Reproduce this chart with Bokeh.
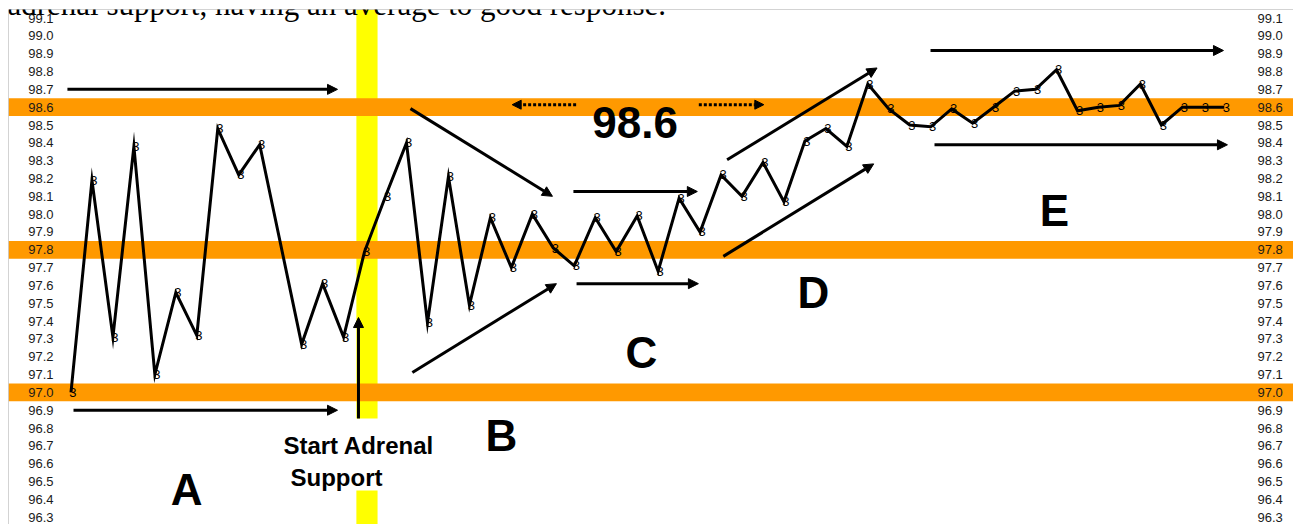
from bokeh.plotting import figure
from bokeh.models import (BoxAnnotation, Arrow, NormalHead, LinearAxis, FixedTicker,
                          PrintfTickFormatter, Span, Label)
from bokeh.core.properties import value
from bokeh.embed import file_html
from bokeh.resources import INLINE

# ---------------- data ----------------
caption = "adrenal support, having an average to good response."

days = [0, 1, 2, 3, 4, 5, 6, 7, 8, 9,
        11, 12, 13, 14, 15, 16, 17, 18, 19, 20,
        21, 22, 23, 24, 25, 26, 27, 28, 29, 30,
        31, 32, 33, 34, 35, 36, 37, 38, 39, 40,
        41, 42, 43, 44, 45, 46, 47, 48, 49, 50,
        51, 52, 53, 54, 55]
temps = [97.00, 98.19, 97.31, 98.38, 97.10, 97.56, 97.32, 98.48, 98.22, 98.39,
         97.27, 97.61, 97.31, 97.79, 98.10, 98.40, 97.39, 98.21, 97.49, 97.98,
         97.70, 98.00, 97.81, 97.71, 97.98, 97.79, 97.99, 97.68, 98.09, 97.90,
         98.22, 98.10, 98.29, 98.07, 98.41, 98.48, 98.38, 98.73, 98.59, 98.50,
         98.49, 98.59, 98.51, 98.60, 98.69, 98.70, 98.81, 98.58, 98.60, 98.61,
         98.73, 98.50, 98.60, 98.60, 98.60]
readings = ["3"] * len(days)

tick_labels = ["96.3", "96.4", "96.5", "96.6", "96.7", "96.8", "96.9", "97.0",
               "97.1", "97.2", "97.3", "97.4", "97.5", "97.6", "97.7", "97.8",
               "97.9", "98.0", "98.1", "98.2", "98.3", "98.4", "98.5", "98.6",
               "98.7", "98.8", "98.9", "99.0", "99.1"]
reference_temps = [97.0, 97.8, 98.6]
reference_label = "98.6"
start_label_lines = ["Start Adrenal", "Support"]
phase_letters = ["A", "B", "C", "D", "E"]

# ---------------- annotation positions (data units) ----------------
x_lo, x_hi = -2.98, 58.30
y_lo, y_hi = 96.259, 99.148
band_half = 0.05
start_band = (13.61, 14.62)
start_box = (9.99, 17.86, 96.45, 96.854)
phase_x = [5.51, 20.53, 27.20, 35.41, 46.90]
phase_y = [96.456, 96.758, 97.224, 97.560, 98.020]
ref_label_pos = (26.90, 98.514)
start_label_x = [10.13, 10.47]
start_label_y = [96.703, 96.523]
caption_pos = (-3.03, 99.176)
solid_arrows = [
    (-0.17, 98.700, 12.71, 98.700),
    (0.12, 96.900, 12.71, 96.900),
    (13.71, 96.854, 13.71, 97.420),
    (16.19, 98.592, 22.96, 98.100),
    (16.28, 97.112, 23.15, 97.610),
    (23.96, 98.127, 29.87, 98.127),
    (24.11, 97.610, 29.92, 97.610),
    (31.29, 98.305, 38.44, 98.820),
    (31.11, 97.763, 38.28, 98.282),
    (40.99, 98.918, 54.96, 98.918),
    (41.18, 98.389, 55.15, 98.389),
]
dotted_arrows = [
    (24.09, 98.614, 21.04, 98.614),
    (29.94, 98.614, 33.04, 98.614),
]

SANS = "Liberation Sans"

p = figure(width=1293, height=524, output_backend="svg", toolbar_location=None,
           x_range=(x_lo, x_hi), y_range=(y_lo, y_hi),
           min_border_left=8, min_border_top=9, min_border_right=0, min_border_bottom=0,
           background_fill_color="white", border_fill_color="white",
           outline_line_color=None)
p.grid.visible = False
p.xaxis.visible = False

# y axes with labels inside the frame
ticker = FixedTicker(ticks=[float(t) for t in tick_labels])
left = p.yaxis[0]
right = LinearAxis()
p.add_layout(right, "right")
for ax, standoff in ((left, -45), (right, -36)):
    ax.ticker = ticker
    ax.formatter = PrintfTickFormatter(format="%.1f")
    ax.axis_line_color = None
    ax.major_tick_line_color = None
    ax.minor_tick_line_color = None
    ax.major_tick_out = 0
    ax.major_tick_in = 0
    ax.major_label_standoff = standoff
    ax.major_label_text_font = SANS
    ax.major_label_text_font_size = "13px"
    ax.major_label_text_color = "#1a1a1a"

# yellow "start" band, then orange reference bands
p.add_layout(BoxAnnotation(left=start_band[0], right=start_band[1], fill_color="#FFFF00",
                           fill_alpha=1, line_color=None, level="underlay"))
for t in reference_temps:
    p.add_layout(BoxAnnotation(bottom=t - band_half, top=t + band_half, fill_color="#FF9900",
                               fill_alpha=1, line_color=None, level="underlay"))
p.add_layout(BoxAnnotation(left=start_box[0], right=start_box[1], bottom=start_box[2],
                           top=start_box[3], fill_color="white", fill_alpha=1,
                           line_color=None, level="underlay"))

# frame border (left and top only)
p.add_layout(Span(location=x_lo, dimension="height", line_color="#a8a8a8", line_width=1))
p.add_layout(Span(location=y_hi, dimension="width", line_color="#a8a8a8", line_width=1))

# temperature line and "3" markers
p.line(days, temps, line_color="black", line_width=3, line_join="miter")
p.text(days, temps, text=readings, text_font=value(SANS), text_font_size="13px",
       text_color="black", text_align="center", text_baseline="middle", x_offset=2)

# arrows
for xs, ys, xe, ye in solid_arrows:
    p.add_layout(Arrow(end=NormalHead(size=10, fill_color="black", line_color="black"),
                       x_start=xs, y_start=ys, x_end=xe, y_end=ye,
                       line_color="black", line_width=3))
for xs, ys, xe, ye in dotted_arrows:
    p.add_layout(Arrow(end=NormalHead(size=9, fill_color="black", line_color="black"),
                       x_start=xs, y_start=ys, x_end=xe, y_end=ye,
                       line_color="black", line_width=3, line_dash="3 2"))

# texts
p.text(phase_x, phase_y, text=phase_letters, text_font=value(SANS), text_font_size="44px",
       text_font_style="bold", text_color="black", text_align="center",
       text_baseline="alphabetic")
p.text([ref_label_pos[0]], [ref_label_pos[1]], text=[reference_label], text_font=value(SANS),
       text_font_size="44px", text_font_style="bold", text_color="black",
       text_align="center", text_baseline="alphabetic")
p.text(start_label_x, start_label_y, text=start_label_lines, text_font=value(SANS),
       text_font_size="24px", text_font_style="bold", text_color="black",
       text_align="left", text_baseline="alphabetic")
p.add_layout(Label(x=caption_pos[0], y=caption_pos[1], text=caption,
                   text_font="Liberation Serif", text_font_size="31px", text_color="black",
                   text_align="left", text_baseline="alphabetic"))

open("out.html", "w").write(file_html(p, INLINE))
